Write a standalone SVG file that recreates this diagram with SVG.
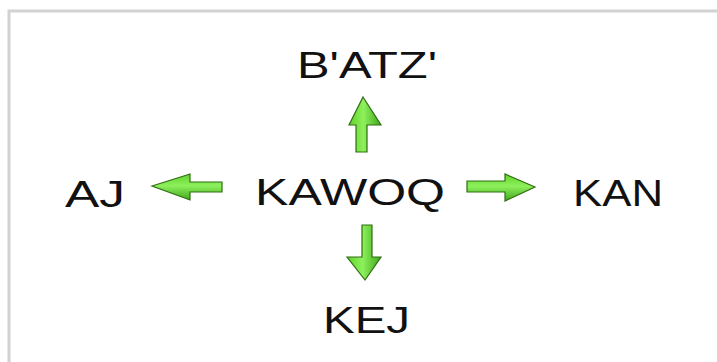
<svg xmlns="http://www.w3.org/2000/svg" width="717" height="362" viewBox="0 0 717 362">
  <style>
    .lbl { font-family: "Liberation Sans", "DejaVu Sans", sans-serif; fill: #111; }
    .arrow { stroke: #2f6e12; stroke-width: 1.2; stroke-linejoin: miter; }
  </style>
  <defs>
    <linearGradient id="gv" x1="0" y1="0" x2="1" y2="0">
      <stop offset="0" stop-color="#5fd22a"/>
      <stop offset="0.45" stop-color="#8ef05c"/>
      <stop offset="1" stop-color="#3fa81c"/>
    </linearGradient>
    <linearGradient id="gh" x1="0" y1="0" x2="0" y2="1">
      <stop offset="0" stop-color="#5fd22a"/>
      <stop offset="0.45" stop-color="#8ef05c"/>
      <stop offset="1" stop-color="#3fa81c"/>
    </linearGradient>
  </defs>
  <rect x="0" y="0" width="717" height="362" fill="#fff"/>
  <rect x="9" y="11" width="720" height="360" fill="#fff" stroke="#d2d2d2" stroke-width="3"/>

  <g id="node-batz"><text class="lbl" x="297" y="78" font-size="36" textLength="140" lengthAdjust="spacingAndGlyphs">B'ATZ'</text></g>
  <g id="node-kawoq"><text class="lbl" x="255" y="205" font-size="37" textLength="190" lengthAdjust="spacingAndGlyphs">KAWOQ</text></g>
  <g id="node-aj"><text class="lbl" x="65" y="207" font-size="37" textLength="60" lengthAdjust="spacingAndGlyphs">AJ</text></g>
  <g id="node-kan"><text class="lbl" x="573" y="206" font-size="37" textLength="90" lengthAdjust="spacingAndGlyphs">KAN</text></g>
  <g id="node-kej"><text class="lbl" x="323" y="333" font-size="37" textLength="87" lengthAdjust="spacingAndGlyphs">KEJ</text></g>

  <g id="connectors">
    <path class="arrow" fill="url(#gv)" d="M363,97 L381,125 L367,125 L367,152 L356,152 L356,125 L349,125 Z"/>
    <path class="arrow" fill="url(#gh)" d="M152,186 L190,174 L190,182 L222,182 L222,192 L190,192 L190,200 Z"/>
    <path class="arrow" fill="url(#gh)" d="M535,187 L505,174 L505,181 L467,181 L467,192 L505,192 L505,201 Z"/>
    <path class="arrow" fill="url(#gv)" d="M365,280 L347,257 L362,257 L362,225 L372,225 L372,257 L381,257 Z"/>
  </g>
</svg>
